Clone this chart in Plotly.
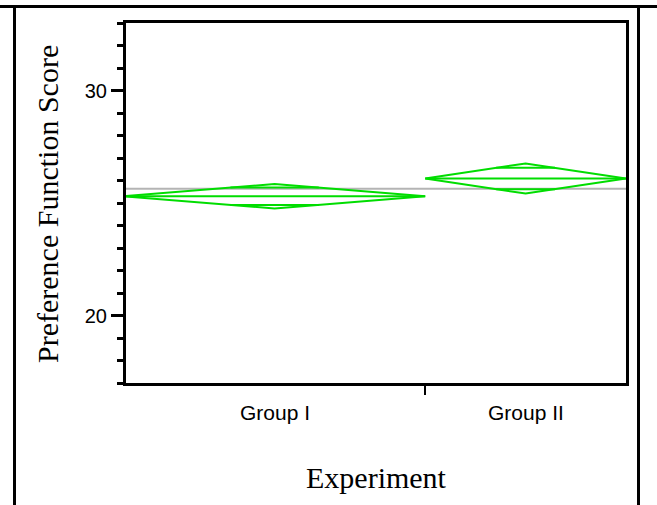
import math
import plotly.graph_objects as go

# ---- data ----
groups = ["Group I", "Group II"]
group_n = [30, 20]                 # group sizes -> diamond widths
group_means = [25.30, 26.09]
group_ci_half = [0.545, 0.67]      # 95% CI half widths (diamond half heights)
overall_mean = 25.63
y_tick_vals = [20, 30]
y_range = [17, 33]

GREEN = "#00dd00"
GRAY = "#b4b4b4"

W, H = 657, 505
L, R, T, B = 126, 31, 23, 122
PW, PH = W - L - R, H - T - B


def px_to_paper_x(px):
    return (px - L) / PW


def px_to_paper_y(py):
    return (H - B - py) / PH


fig = go.Figure()

# x positions from cumulative group sizes
starts = []
acc = 0
for n in group_n:
    starts.append(acc)
    acc += n
total = acc
x_range = [0.02 * total / 5, total]

# overall mean line
fig.add_trace(go.Scatter(x=x_range, y=[overall_mean, overall_mean], mode="lines",
                         line=dict(color=GRAY, width=2), hoverinfo="skip", showlegend=False))

k = 1 / math.sqrt(2)
for g, s, n, m, h in zip(groups, starts, group_n, group_means, group_ci_half):
    x0, x1 = s, s + n
    xc = (x0 + x1) / 2
    # diamond
    fig.add_trace(go.Scatter(x=[x0, xc, x1, xc, x0], y=[m, m + h, m, m - h, m], mode="lines",
                             line=dict(color=GREEN, width=2), name=g, showlegend=False))
    # mean line
    fig.add_trace(go.Scatter(x=[x0, x1], y=[m, m], mode="lines",
                             line=dict(color=GREEN, width=2), showlegend=False))
    # overlap marks
    half_w = (x1 - x0) / 2 * (1 - k)
    for yy in (m + h * k, m - h * k):
        fig.add_trace(go.Scatter(x=[xc - half_w, xc + half_w], y=[yy, yy], mode="lines",
                                 line=dict(color=GREEN, width=2), showlegend=False))
    # group label
    fig.add_annotation(x=xc, xref="x", y=px_to_paper_y(412), yref="paper", text=g,
                       showarrow=False, xanchor="center", yanchor="middle",
                       font=dict(family="Liberation Sans, Arial", size=21, color="black"))

boundaries = starts[1:]

fig.update_xaxes(range=x_range, showgrid=False, zeroline=False,
                 showline=True, mirror=True, linecolor="black", linewidth=3,
                 tickvals=boundaries, ticktext=["" for _ in boundaries],
                 ticks="outside", ticklen=9, tickwidth=1.5, tickcolor="black")
fig.update_yaxes(range=y_range, showgrid=False, zeroline=False,
                 showline=True, mirror=True, linecolor="black", linewidth=3,
                 tickvals=y_tick_vals, ticks="outside", ticklen=12, tickwidth=3, tickcolor="black",
                 tickfont=dict(family="Liberation Sans, Arial", size=20, color="black"),
                 minor=dict(dtick=1, ticks="outside", ticklen=6, tickwidth=3, tickcolor="black"))

# axis titles
fig.add_annotation(x=0.5, xref="paper", y=px_to_paper_y(477), yref="paper", text="Experiment",
                   showarrow=False, xanchor="center", yanchor="middle",
                   font=dict(family="Liberation Serif, Times New Roman", size=30, color="black"))
fig.add_annotation(x=px_to_paper_x(47), xref="paper", y=px_to_paper_y(204), yref="paper",
                   text="Preference Function Score", textangle=-90,
                   showarrow=False, xanchor="center", yanchor="middle",
                   font=dict(family="Liberation Serif, Times New Roman", size=30, color="black"))

# outer frame lines
fig.add_shape(type="line", xref="paper", yref="paper",
              x0=px_to_paper_x(0), x1=px_to_paper_x(W), y0=px_to_paper_y(6.5), y1=px_to_paper_y(6.5),
              line=dict(color="black", width=3))
for xp in (14.5, 638.5):
    fig.add_shape(type="line", xref="paper", yref="paper",
                  x0=px_to_paper_x(xp), x1=px_to_paper_x(xp), y0=px_to_paper_y(6.5), y1=px_to_paper_y(H + 2),
                  line=dict(color="black", width=3))

fig.update_layout(width=W, height=H, margin=dict(l=L, r=R, t=T, b=B),
                  paper_bgcolor="white", plot_bgcolor="white", showlegend=False)

fig.write_html("out.html", config={"displayModeBar": False},
               post_script="document.body.style.margin='0px';document.body.style.overflow='hidden';")
